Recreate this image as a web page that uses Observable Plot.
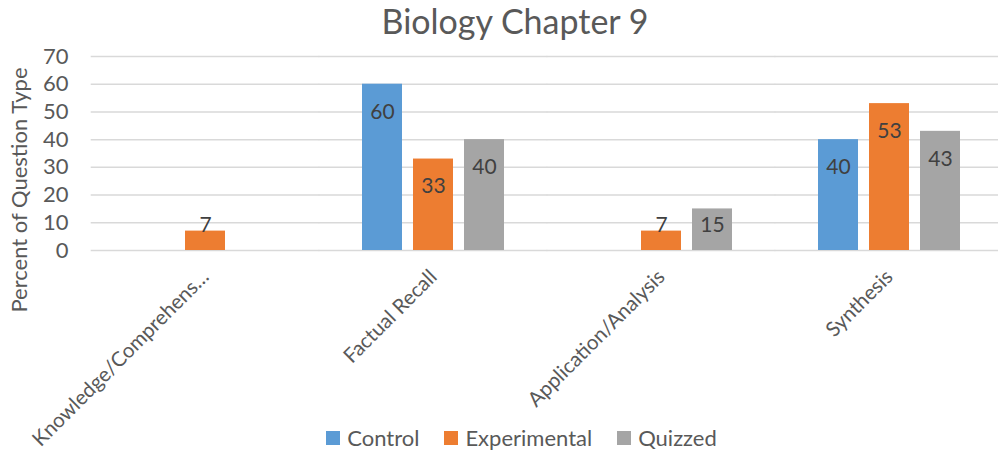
<!DOCTYPE html>
<html><head><meta charset="utf-8">
<script src="https://cdn.jsdelivr.net/npm/d3@7"></script>
<script src="https://cdn.jsdelivr.net/npm/@observablehq/plot@0.6"></script>
<style>
body{margin:0;background:#fff;font-family:Lato,sans-serif;}
#wrap{position:relative;width:998px;height:452px;overflow:hidden;background:#fff;}
#title{position:absolute;left:0;width:1030px;top:0px;text-align:center;font-size:34px;color:#595959;}
#ylab{position:absolute;left:18px;top:190px;transform:translate(-50%,-50%) rotate(-90deg);white-space:nowrap;font-size:22px;color:#595959;}
#legend{position:absolute;top:421px;left:14px;width:1040px;display:flex;justify-content:center;}
#chart{position:absolute;left:0;top:0;width:1004px;}
#chart svg{max-width:none !important;}
.lg-swatch{margin-right:25px !important;}
.lg-swatch > svg{margin-right:7px !important;}
</style>
</head><body>
<div id="wrap">
  <div id="chart"></div>
  <div id="title">Biology Chapter 9</div>
  <div id="ylab">Percent of Question Type</div>
  <div id="legend"></div>
</div>
<script>
const categories = ["Knowledge/Comprehension", "Factual Recall", "Application/Analysis", "Synthesis"];
const tickLabels = ["Knowledge/Comprehens…", "Factual Recall", "Application/Analysis", "Synthesis"];
const series = ["Control", "Experimental", "Quizzed"];
const colors = ["#5B9BD5", "#ED7D31", "#A5A5A5"];
const control = [null, 60, null, 40];
const experimental = [7, 33, 7, 53];
const quizzed = [null, 40, 15, 43];
const yTicks = [0, 10, 20, 30, 40, 50, 60, 70];

const seriesValues = [control, experimental, quizzed];
const data = [];
categories.forEach((c, i) => {
  seriesValues.forEach((arr, j) => {
    if (arr[i] != null) data.push({category: c, series: series[j], value: arr[i]});
  });
});

const chart = Plot.plot({
  width: 1004, height: 452,
  marginLeft: 90, marginRight: 0, marginTop: 56, marginBottom: 202,
  style: {fontFamily: "Lato, sans-serif", fontSize: "20px", color: "#595959", background: "transparent", overflow: "visible"},
  fx: {domain: categories, paddingInner: 0.3786, paddingOuter: 0.1893, label: null},
  x: {domain: series, paddingInner: 0.2157, paddingOuter: 0, axis: null},
  y: {domain: [0, 70], label: null},
  color: {domain: series, range: colors},
  marks: [
    Plot.ruleY(yTicks, {stroke: "#d9d9d9", strokeWidth: 1.5, insetLeft: -43.3, insetRight: -43.3}),
    Plot.axisY({ticks: yTicks, tickSize: 0, tickPadding: 66, fontSize: 22, label: null}),
    Plot.axisFx({anchor: "bottom", tickRotate: -45, tickSize: 0, tickPadding: 23, fontSize: 20.5, label: null,
      tickFormat: d => tickLabels[categories.indexOf(d)]}),
    Plot.barY(data, {fx: "category", x: "series", y: "value", fill: "series"}),
    Plot.text(data, {fx: "category", x: "series", y: d => Math.max(d.value - 10, 9.2),
      text: d => String(d.value), fill: "#404040", fontSize: 21})
  ]
});
document.getElementById("chart").appendChild(chart);

const legend = Plot.legend({
  color: {domain: series, range: colors},
  legend: "swatches", swatchSize: 14, className: "lg",
  style: {fontFamily: "Lato, sans-serif", fontSize: "22px", color: "#595959"}
});
document.getElementById("legend").appendChild(legend);
</script>
</body></html>
